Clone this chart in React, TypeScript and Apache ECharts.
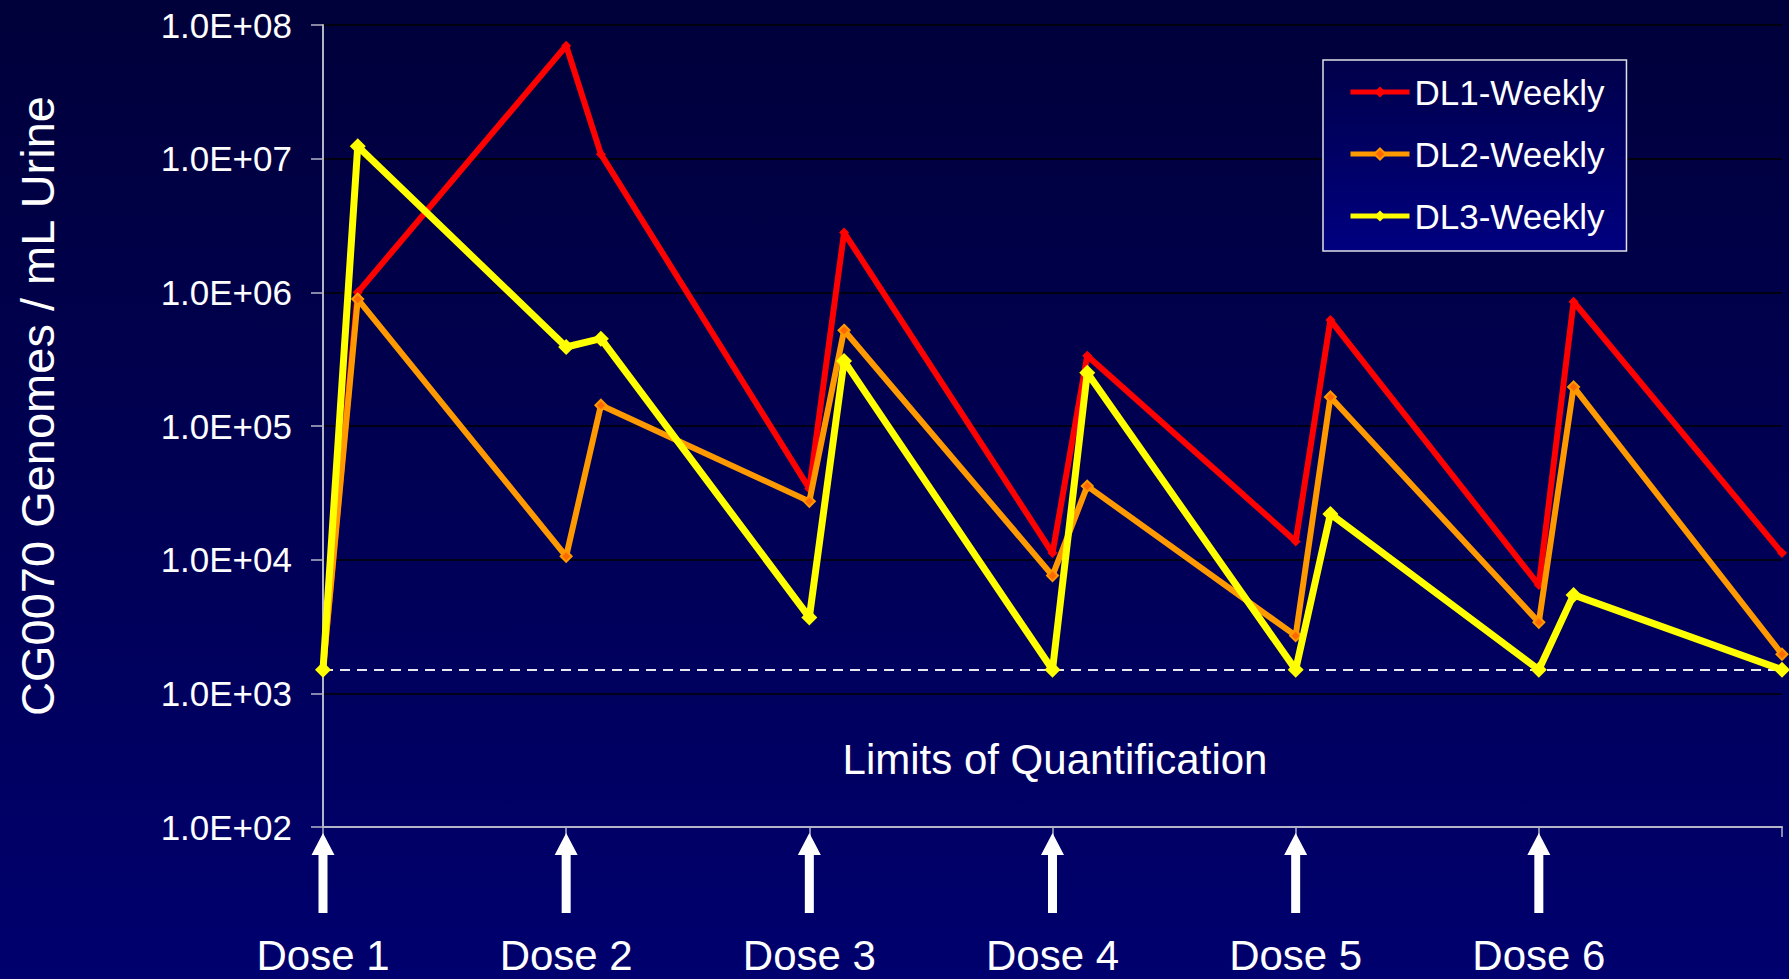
import React, { useEffect, useRef } from "react";
import * as echarts from "echarts";

// ---- data ----
const days = [0, 1, 7, 8, 14, 15, 21, 22, 28, 29, 35, 36, 42];
const dl1Weekly = [1500, 1.0e6, 7.0e7, 1.08e7, 3.4e4, 2.8e6, 1.12e4, 3.35e5, 1.37e4, 6.2e5, 6.45e3, 8.5e5, 1.12e4];
const dl2Weekly = [1500, 8.9e5, 1.06e4, 1.43e5, 2.73e4, 5.2e5, 7.6e3, 3.55e4, 2.7e3, 1.65e5, 3.4e3, 1.96e5, 1.96e3];
const dl3Weekly = [1500, 1.24e7, 3.9e5, 4.5e5, 3.7e3, 3.07e5, 1500, 2.5e5, 1500, 2.2e4, 1500, 5.45e3, 1500];
const seriesNames = ["DL1-Weekly", "DL2-Weekly", "DL3-Weekly"];
const doseDays = [0, 7, 14, 21, 28, 35];
const doseLabels = ["Dose 1", "Dose 2", "Dose 3", "Dose 4", "Dose 5", "Dose 6"];
const yTickLabels = ["1.0E+02", "1.0E+03", "1.0E+04", "1.0E+05", "1.0E+06", "1.0E+07", "1.0E+08"];
const loqValue = 1500;
const yTitle = "CG0070 Genomes / mL Urine";
const loqText = "Limits of Quantification";

const FONT = '"Liberation Sans", Arial, sans-serif';
const ARROW = "path://M11.5,0 L23,22 L16,22 L16,80 L7,80 L7,22 L0,22 Z";

export default function App() {
  const ref = useRef<HTMLDivElement>(null);

  useEffect(() => {
    if (!ref.current) return;
    const chart = echarts.init(ref.current, undefined, { renderer: "svg" });
    const pairs = (vals: number[]) => days.map((d, i) => [d, vals[i]]);

    const option: any = {
      animation: false,
      backgroundColor: new echarts.graphic.LinearGradient(0, 0, 0, 1, [
        { offset: 0, color: "#00003a" },
        { offset: 1, color: "#00006e" },
      ]),
      grid: {
        left: 323,
        right: 7,
        top: 25,
        bottom: 152,
        containLabel: false,
        outerBoundsMode: "none",
      },
      legend: {
        data: seriesNames,
        orient: "vertical",
        left: 1323,
        top: 60,
        padding: [12, 22, 15, 25],
        itemGap: 22,
        itemWidth: 59,
        itemHeight: 14,
        selectedMode: false,
        backgroundColor: new echarts.graphic.LinearGradient(0, 0, 0, 1, [
          { offset: 0, color: "#00004a" },
          { offset: 1, color: "#000080" },
        ]),
        borderColor: "#e0e0e8",
        borderWidth: 1.5,
        lineStyle: { width: 5 },
        textStyle: { color: "#ffffff", fontSize: 35, fontFamily: FONT, lineHeight: 40 },
      },
      xAxis: {
        type: "value",
        min: 0,
        max: 42,
        interval: 7,
        axisLine: { show: true, lineStyle: { color: "#b4b4c8", width: 2 } },
        axisTick: { show: true, length: 10, lineStyle: { color: "#b4b4c8", width: 1.5 } },
        splitLine: { show: false },
        axisLabel: {
          show: true,
          margin: 107,
          color: "#ffffff",
          fontSize: 42,
          fontFamily: FONT,
          formatter: (v: number) => doseLabels[Math.round(v / 7)] ?? "",
        },
      },
      yAxis: {
        type: "log",
        logBase: 10,
        min: 100,
        max: 1e8,
        axisLine: { show: true, lineStyle: { color: "#b4b4c8", width: 2 } },
        axisTick: { show: true, length: 12, lineStyle: { color: "#b4b4c8", width: 1.5 } },
        splitLine: { show: true, lineStyle: { color: "#000000", width: 1.5 } },
        axisLabel: {
          margin: 31,
          color: "#ffffff",
          fontSize: 35,
          fontFamily: FONT,
          formatter: (v: number) => {
            const e = Math.round(Math.log10(v));
            return yTickLabels[e - 2] ?? "";
          },
        },
      },
      series: [
        {
          name: seriesNames[0],
          type: "line",
          data: pairs(dl1Weekly),
          lineStyle: { color: "#ff0000", width: 6 },
          itemStyle: { color: "#ff0000" },
          symbol: "diamond",
          symbolSize: 10,
          z: 3,
          markLine: {
            silent: true,
            symbol: "none",
            label: { show: false },
            lineStyle: { color: "#e8e8f0", type: [10, 7], width: 2 },
            data: [{ yAxis: loqValue }],
          },
        },
        {
          name: seriesNames[1],
          type: "line",
          data: pairs(dl2Weekly),
          lineStyle: { color: "#ff9900", width: 6 },
          itemStyle: { color: "#ff6a00", borderColor: "#ff9900", borderWidth: 2 },
          symbol: "diamond",
          symbolSize: 11,
          z: 4,
        },
        {
          name: seriesNames[2],
          type: "line",
          data: pairs(dl3Weekly),
          lineStyle: { color: "#ffff00", width: 7 },
          itemStyle: { color: "#ffff00" },
          symbol: "diamond",
          symbolSize: 16,
          z: 5,
        },
        {
          name: "doses",
          type: "scatter",
          data: doseDays.map((d) => [d, 100]),
          symbol: ARROW,
          symbolSize: [23, 80],
          symbolKeepAspect: false,
          symbolOffset: [0, 46],
          itemStyle: { color: "#ffffff", opacity: 1 },
          clip: false,
          silent: true,
          z: 6,
        },
      ],
      graphic: [
        {
          type: "text",
          x: 37,
          y: 406,
          rotation: Math.PI / 2,
          style: {
            text: yTitle,
            fill: "#ffffff",
            font: `47px ${FONT}`,
            textAlign: "center",
            textVerticalAlign: "middle",
            align: "center",
            verticalAlign: "middle",
          },
        },
        {
          type: "text",
          x: 1055,
          y: 759,
          style: {
            text: loqText,
            fill: "#ffffff",
            font: `42px ${FONT}`,
            textAlign: "center",
            textVerticalAlign: "middle",
            align: "center",
            verticalAlign: "middle",
          },
        },
      ],
    };
    chart.setOption(option);
    return () => chart.dispose();
  }, []);

  return (
    <div
      ref={ref}
      style={{ position: "fixed", left: 0, top: 0, width: "1789px", height: "979px" }}
    />
  );
}
